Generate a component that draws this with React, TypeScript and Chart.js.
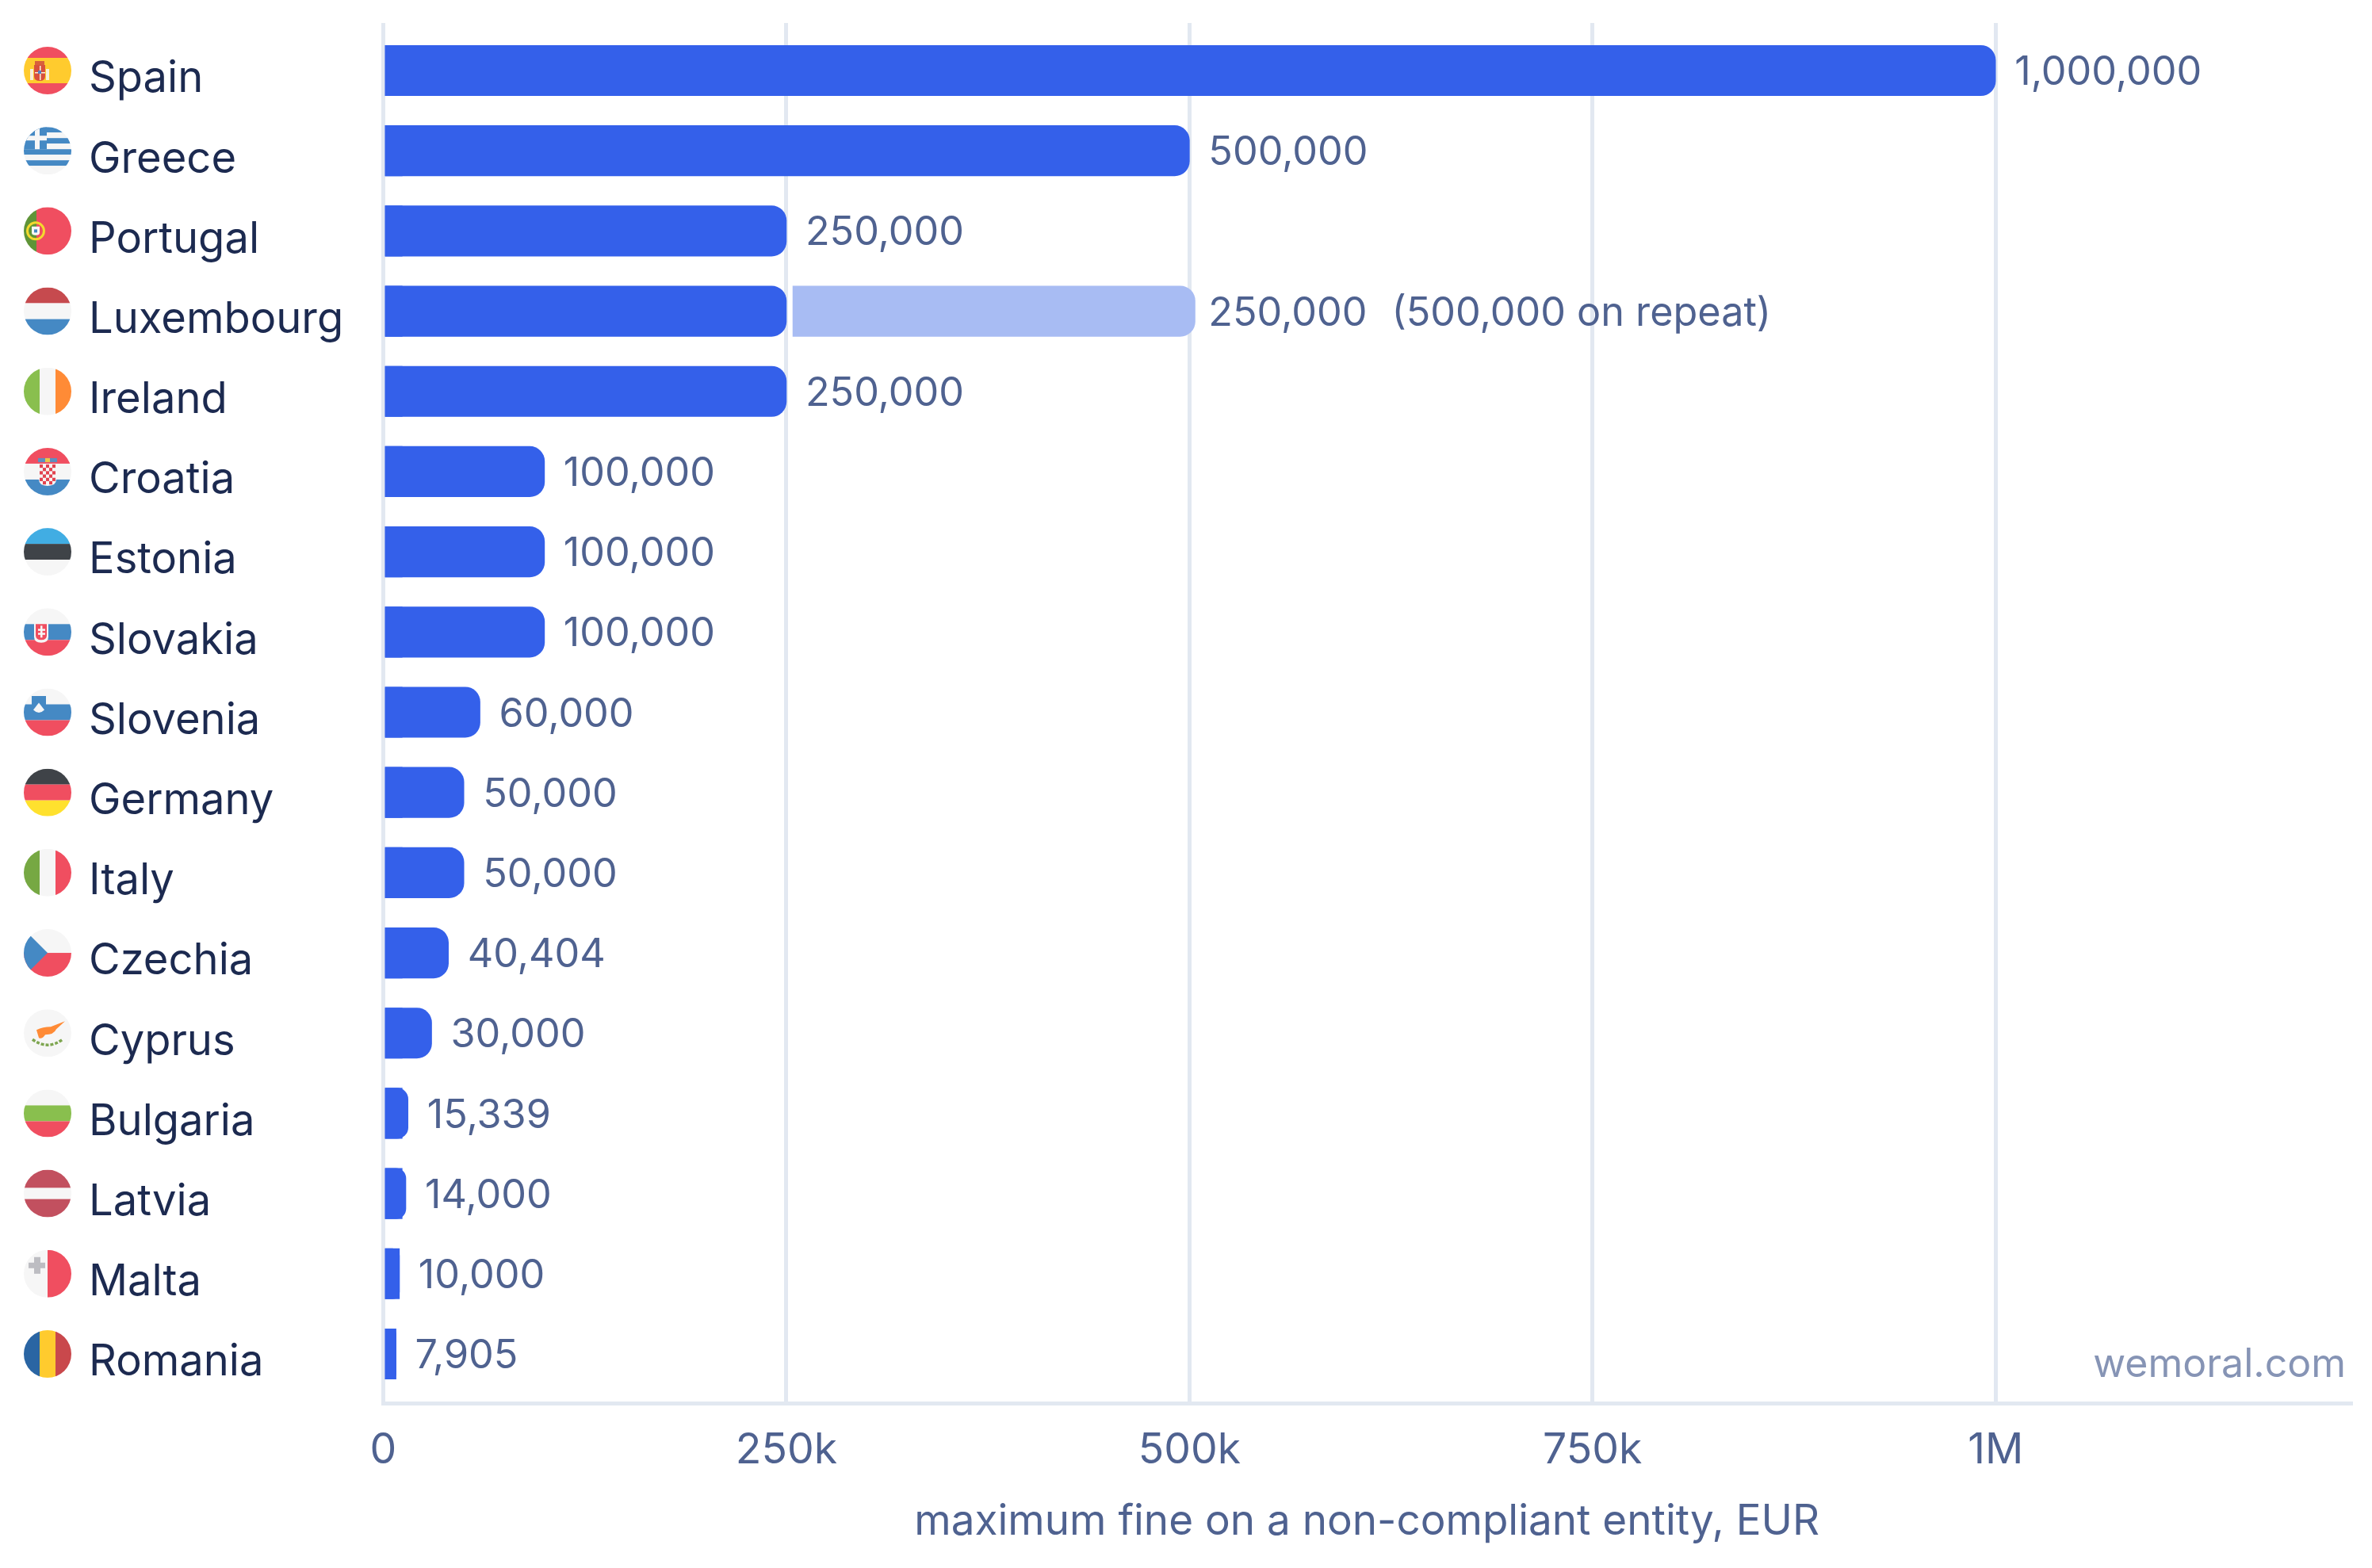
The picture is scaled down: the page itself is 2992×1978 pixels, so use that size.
// App.tsx
import React, { useRef, useEffect } from "react";
import Chart from "chart.js/auto";

const countries = [
  "Spain", "Greece", "Portugal", "Luxembourg", "Ireland", "Croatia", "Estonia", "Slovakia", "Slovenia",
  "Germany", "Italy", "Czechia", "Cyprus", "Bulgaria", "Latvia", "Malta", "Romania",
];
const fines = [
  1000000, 500000, 250000, 250000, 250000, 100000, 100000, 100000, 60000,
  50000, 50000, 40404, 30000, 15339, 14000, 10000, 7905,
];
// the square foot every bar in the original has at its base
const barFoot = [
  11700, 11700, 11700, 11700, 11700, 11700, 11700, 11700, 11700,
  11700, 11700, 11700, 11700, 11700, 11700, 10000, 7905,
];
const repeatCountry = "Luxembourg";
const repeatFine = 500000;
const repeatBar = [254000, 503500];
const repeatLabel = "(500,000 on repeat)";
const xTicks = [0, 250000, 500000, 750000, 1000000];
const xTickLabels = ["0", "250k", "500k", "750k", "1M"];

const BLUE = "#3460ea";
const LIGHT_BLUE = "#a8bcf3";
const GRID = "#e2e8f1";
const INK = "#1c2a50";
const MUTED = "#4f6290";
const FONT = "Inter";

const RED = "#f04e60";
const WHITE = "#f6f6f6";
const FLAG_BLUE = "#4589c4";
const GREEN = "#89bf4e";
const DARK = "#3f4348";
const YELLOW = "#ffcb2e";
const R = 30;

type Ctx = CanvasRenderingContext2D;

const rows = (ctx: Ctx, colors: string[], stops: number[]) => {
  colors.forEach((c, i) => {
    ctx.fillStyle = c;
    ctx.fillRect(-R, stops[i], 2 * R, stops[i + 1] - stops[i]);
  });
};
const cols = (ctx: Ctx, colors: string[], stops: number[]) => {
  colors.forEach((c, i) => {
    ctx.fillStyle = c;
    ctx.fillRect(stops[i], -R, stops[i + 1] - stops[i], 2 * R);
  });
};
const thirds = [-30, -10, 10, 30];

const shield = (ctx: Ctx, x: number, y: number, w: number, h: number, fill: string) => {
  ctx.fillStyle = fill;
  ctx.beginPath();
  ctx.moveTo(x - w / 2, y - h / 2);
  ctx.lineTo(x + w / 2, y - h / 2);
  ctx.lineTo(x + w / 2, y + h / 5);
  ctx.quadraticCurveTo(x + w / 2, y + h / 2, x, y + h / 2);
  ctx.quadraticCurveTo(x - w / 2, y + h / 2, x - w / 2, y + h / 5);
  ctx.closePath();
  ctx.fill();
};

const flags: Record<string, (ctx: Ctx) => void> = {
  Spain: (ctx) => {
    rows(ctx, [RED, YELLOW, RED], [-30, -16, 16, 30]);
    // pillars, crown and arms
    ctx.fillStyle = "#f7f0d8";
    ctx.fillRect(-22, -2, 4, 14);
    ctx.fillRect(-2, -2, 4, 14);
    ctx.fillStyle = "#d8603c";
    ctx.fillRect(-16, -12, 12, 5);
    shield(ctx, -10, 3, 14, 20, "#d8503c");
    ctx.fillStyle = "#f7f0d8";
    ctx.fillRect(-10, -6, 1.5, 18);
    ctx.fillRect(-16, 2, 13, 1.5);
    ctx.fillStyle = "#5a7fbf";
    ctx.fillRect(-12, 0, 4, 4);
  },
  Greece: (ctx) => {
    const stops = [-30, -23, -16, -9, -2, 5, 12, 19, 26, 30];
    rows(ctx, [FLAG_BLUE, WHITE, FLAG_BLUE, WHITE, FLAG_BLUE, WHITE, FLAG_BLUE, WHITE, WHITE], stops);
    ctx.fillStyle = FLAG_BLUE;
    ctx.fillRect(-30, -30, 29, 28);
    ctx.fillStyle = WHITE;
    ctx.fillRect(-16, -30, 6, 28);
    ctx.fillRect(-30, -19, 29, 6);
  },
  Portugal: (ctx) => {
    cols(ctx, ["#5f9438", RED], [-30, -14, 30]);
    ctx.strokeStyle = "#f4d92e";
    ctx.lineWidth = 3;
    ctx.beginPath();
    ctx.arc(-15, 0, 10.5, 0, Math.PI * 2);
    ctx.stroke();
    shield(ctx, -15, 0, 10, 11, "#f7f7f7");
    ctx.fillStyle = "#4589c4";
    ctx.fillRect(-17, -2, 4, 4);
  },
  Luxembourg: (ctx) => rows(ctx, ["#c64a4e", WHITE, FLAG_BLUE], thirds),
  Ireland: (ctx) => cols(ctx, [GREEN, WHITE, "#ff8b36"], thirds),
  Croatia: (ctx) => {
    rows(ctx, [RED, WHITE, FLAG_BLUE], thirds);
    shield(ctx, 0, 4.5, 22, 27, WHITE);
    ctx.fillStyle = "#e2434f";
    for (let r = 0; r < 6; r++) {
      for (let c = 0; c < 5; c++) {
        if ((r + c) % 2 === 0 && r * 4 < 20 + (c > 0 && c < 4 ? 4 : 0)) {
          ctx.fillRect(-10 + c * 4, -9 + r * 4.2, 4, 4.2);
        }
      }
    }
    ctx.fillStyle = "#5d8fc0";
    ctx.fillRect(-12, -17, 24, 5);
    ctx.fillStyle = "#e8c84a";
    ctx.fillRect(-3, -17, 6, 5);
  },
  Estonia: (ctx) => rows(ctx, ["#41ade3", DARK, WHITE], thirds),
  Slovakia: (ctx) => {
    rows(ctx, [WHITE, FLAG_BLUE, RED], thirds);
    shield(ctx, -8, 1, 18, 25, WHITE);
    shield(ctx, -8, 0, 14, 20, RED);
    ctx.fillStyle = WHITE;
    ctx.fillRect(-9, -8, 2.5, 15);
    ctx.fillRect(-12, -4, 9, 2.5);
    ctx.fillRect(-12, 1, 9, 2.5);
  },
  Slovenia: (ctx) => {
    rows(ctx, [WHITE, FLAG_BLUE, RED], thirds);
    shield(ctx, -11, -9, 18, 23, FLAG_BLUE);
    ctx.fillStyle = WHITE;
    ctx.beginPath();
    ctx.moveTo(-18, -3);
    ctx.lineTo(-11, -12);
    ctx.lineTo(-4, -3);
    ctx.quadraticCurveTo(-11, 4, -18, -3);
    ctx.closePath();
    ctx.fill();
  },
  Germany: (ctx) => rows(ctx, [DARK, RED, "#ffe12e"], thirds),
  Italy: (ctx) => cols(ctx, ["#76a843", WHITE, RED], thirds),
  Czechia: (ctx) => {
    rows(ctx, [WHITE, RED], [-30, 0, 30]);
    ctx.fillStyle = FLAG_BLUE;
    ctx.beginPath();
    ctx.moveTo(-30, -30);
    ctx.lineTo(0, 0);
    ctx.lineTo(-30, 30);
    ctx.closePath();
    ctx.fill();
  },
  Cyprus: (ctx) => {
    rows(ctx, [WHITE], [-30, 30]);
    ctx.fillStyle = "#ff8b36";
    ctx.beginPath();
    ctx.moveTo(-14, -4);
    ctx.quadraticCurveTo(-6, -8, 4, -8);
    ctx.lineTo(22, -15);
    ctx.lineTo(11, -5);
    ctx.quadraticCurveTo(8, 2, -3, 2);
    ctx.quadraticCurveTo(-7, 8, -11, 6);
    ctx.closePath();
    ctx.fill();
    ctx.strokeStyle = "#7ea650";
    ctx.lineWidth = 3.5;
    ctx.setLineDash([4, 2]);
    ctx.beginPath();
    ctx.moveTo(-19, 8);
    ctx.quadraticCurveTo(0, 22, 19, 8);
    ctx.stroke();
    ctx.setLineDash([]);
  },
  Bulgaria: (ctx) => rows(ctx, [WHITE, GREEN, RED], thirds),
  Latvia: (ctx) => rows(ctx, ["#c2505f", WHITE, "#c2505f"], [-30, -7, 7, 30]),
  Malta: (ctx) => {
    cols(ctx, [WHITE, RED], [-30, 0, 30]);
    ctx.fillStyle = "#bdbdc2";
    ctx.fillRect(-17, -21, 8, 21);
    ctx.fillRect(-24, -14, 21, 7);
  },
  Romania: (ctx) => cols(ctx, ["#2a65a3", YELLOW, "#c9484c"], thirds),
};

// circle flags left of the country names
const flagPlugin = {
  id: "flagIcons",
  afterDraw(chart: any) {
    const { ctx, scales } = chart;
    countries.forEach((name, i) => {
      ctx.save();
      ctx.translate(60, scales.y.getPixelForValue(i));
      ctx.beginPath();
      ctx.arc(0, 0, R, 0, Math.PI * 2);
      ctx.clip();
      flags[name](ctx);
      ctx.restore();
    });
  },
};

// value text at the end of each bar and the site name
const valueLabelPlugin = {
  id: "valueLabels",
  afterDatasetsDraw(chart: any) {
    const { ctx, scales } = chart;
    ctx.save();
    ctx.font = `50.3px ${FONT}`;
    ctx.fillStyle = MUTED;
    ctx.textAlign = "left";
    ctx.textBaseline = "middle";
    countries.forEach((name, i) => {
      const end = name === repeatCountry ? repeatFine : fines[i];
      const x = scales.x.getPixelForValue(end) + 24;
      const y = scales.y.getPixelForValue(i) + 3;
      const text = fines[i].toLocaleString("en-US");
      ctx.fillText(text, x, y);
      if (name === repeatCountry) ctx.fillText(repeatLabel, x + ctx.measureText(text).width + 31, y);
    });
    ctx.font = `50px ${FONT}`;
    ctx.fillStyle = "#8694b5";
    ctx.textAlign = "right";
    ctx.fillText("wemoral.com", 2959, 1722);
    ctx.restore();
  },
};

const App: React.FC = () => {
  const canvasRef = useRef<HTMLCanvasElement | null>(null);

  useEffect(() => {
    if (!canvasRef.current) return;
    const radius = { topRight: 19, bottomRight: 19, topLeft: 0, bottomLeft: 0 };
    const chart = new Chart(canvasRef.current, {
      type: "bar",
      data: {
        datasets: [
          {
            label: "repeat",
            data: [{ x: repeatBar, y: countries.indexOf(repeatCountry) }] as any,
            backgroundColor: LIGHT_BLUE,
            borderRadius: radius,
            borderSkipped: false,
          },
          {
            label: "fine",
            data: fines.map((v, i) => ({ x: v, y: i })),
            backgroundColor: BLUE,
            borderRadius: radius,
            borderSkipped: false,
          },
          {
            label: "foot",
            data: barFoot.map((v, i) => ({ x: v, y: i })),
            backgroundColor: BLUE,
          },
        ],
      },
      plugins: [flagPlugin, valueLabelPlugin],
      options: {
        indexAxis: "y",
        responsive: false,
        devicePixelRatio: 1,
        animation: false,
        grouped: false,
        barThickness: 63.5,
        layout: { padding: { left: 112, top: 29, right: 27, bottom: 0 } },
        plugins: { legend: { display: false }, tooltip: { enabled: false } },
        scales: {
          x: {
            type: "linear",
            min: 0,
            max: 1220200,
            afterFit: (scale: any) => {
              scale.height = 208;
            },
            afterBuildTicks: (scale: any) => {
              scale.ticks = xTicks.map((value) => ({ value }));
            },
            grid: { color: GRID, lineWidth: 5, drawTicks: false },
            border: { color: GRID, width: 5 },
            ticks: {
              padding: 33,
              color: MUTED,
              maxRotation: 0,
              font: { family: FONT, size: 53.5, lineHeight: 1 },
              callback: (value: any) => xTickLabels[xTicks.indexOf(value)],
            },
            title: {
              display: true,
              text: "maximum fine on a non-compliant entity, EUR",
              color: MUTED,
              font: { family: FONT, size: 53 },
              padding: { top: 0, bottom: 26 },
            },
          },
          y: {
            type: "linear",
            reverse: true,
            offset: false,
            min: -0.593,
            max: 16.613,
            afterFit: (scale: any) => {
              scale.width = 371.5;
            },
            afterBuildTicks: (scale: any) => {
              scale.ticks = countries.map((_, value) => ({ value }));
            },
            grid: { display: false },
            border: { display: false },
            ticks: {
              autoSkip: false,
              crossAlign: "far",
              padding: 0,
              labelOffset: 11,
              color: INK,
              font: { family: FONT, size: 54.3, lineHeight: 1 },
              callback: (value: any) => countries[value],
            },
          },
        },
      } as any,
    });

    return () => chart.destroy();
  }, []);

  return (
    <div style={{ position: "absolute", left: 0, top: 0, width: 2992, height: 1978, background: "#fff" }}>
      <canvas ref={canvasRef} width={2992} height={1978} style={{ display: "block" }} />
    </div>
  );
};

export default App;
